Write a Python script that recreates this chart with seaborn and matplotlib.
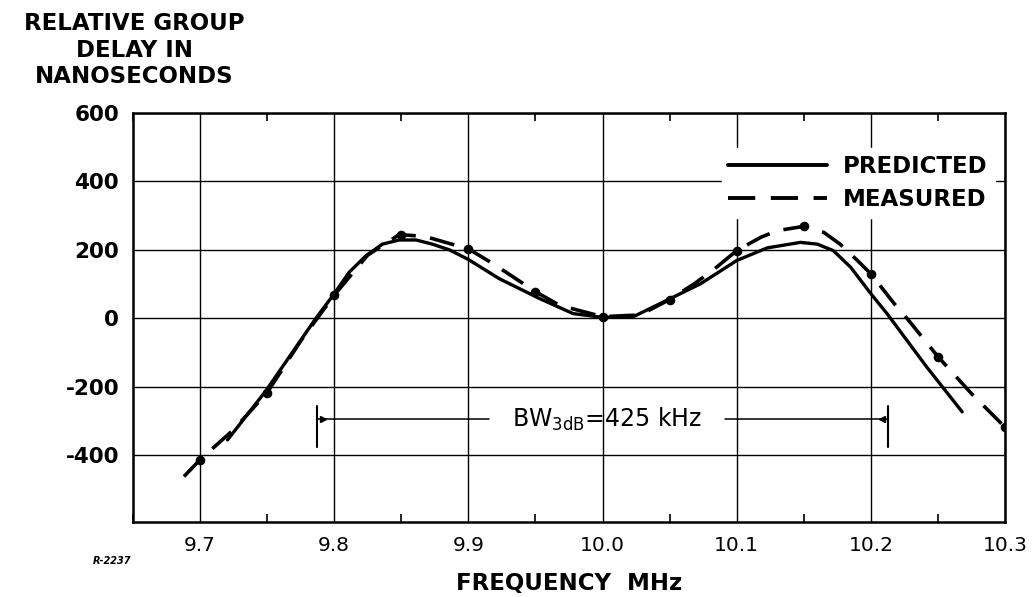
import numpy as np
import pandas as pd
import matplotlib
matplotlib.use("Agg")
import matplotlib.pyplot as plt
import seaborn as sns
from matplotlib.ticker import MultipleLocator

# ---- data ----
pred_x = [9.7205, 9.749, 9.7863, 9.8, 9.8112, 9.8237, 9.836, 9.8485, 9.861, 9.873,
          9.886, 9.9, 9.923, 9.953, 9.978, 10.0, 10.023, 10.048, 10.073, 10.1,
          10.1228, 10.1475, 10.16, 10.172, 10.185, 10.2, 10.212, 10.242, 10.268]
pred_y = [-355, -212, 0, 72, 135, 183, 217, 229, 229, 217,
          200, 172, 116, 58, 14, 3, 5, 53, 101, 169,
          206, 222, 217, 198, 149, 72, 14, -144, -273]

meas_x = [9.688, 9.7, 9.725, 9.75, 9.775, 9.8, 9.825, 9.8485, 9.868, 9.883, 9.9,
          9.9157, 9.928, 9.95, 9.968, 10.0, 10.028, 10.05, 10.068, 10.083, 10.1,
          10.118, 10.13, 10.15, 10.165, 10.177, 10.19, 10.2, 10.217, 10.229,
          10.25, 10.275, 10.3]
meas_y = [-462, -413, -325, -217, -66, 68, 185, 245, 239, 222, 203,
          166, 135, 78, 38, 5, 10, 55, 100, 143, 198,
          237, 256, 269, 251, 217, 169, 130, 45, -10,
          -112, -220, -318]

pt_x = [9.70, 9.75, 9.80, 9.85, 9.90, 9.95, 10.00, 10.05, 10.10, 10.15, 10.20, 10.25, 10.30]
pt_y = [-413, -217, 68, 245, 203, 78, 5, 55, 198, 269, 130, -112, -318]

x_ticks = [9.7, 9.8, 9.9, 10.0, 10.1, 10.2, 10.3]
x_tick_labels = ["9.7", "9.8", "9.9", "10.0", "10.1", "10.2", "10.3"]
y_ticks = [-400, -200, 0, 200, 400, 600]
y_tick_labels = ["-400", "-200", "0", "200", "400", "600"]

bw_left, bw_right, bw_level = 9.7875, 10.2125, -294

sns.set_style("white")
plt.rcParams["font.family"] = ["DejaVu Sans"]
plt.rcParams["text.color"] = "black"
plt.rcParams["xtick.color"] = "black"
plt.rcParams["ytick.color"] = "black"
plt.rcParams["axes.labelcolor"] = "black"

fig = plt.figure(figsize=(10.34, 5.97), dpi=100)
ax = fig.add_axes([0.1286, 0.1256, 0.972 - 0.1286, 0.8107 - 0.1256])

pred_df = pd.DataFrame({"f": pred_x, "d": pred_y})
meas_df = pd.DataFrame({"f": meas_x, "d": meas_y})
pts_df = pd.DataFrame({"f": pt_x, "d": pt_y})

sns.lineplot(data=pred_df, x="f", y="d", ax=ax, color="black", lw=2.4,
             sort=False, label="PREDICTED", zorder=3)
sns.lineplot(data=meas_df, x="f", y="d", ax=ax, color="black", lw=2.6,
             sort=False, label="MEASURED", zorder=3)
ax.lines[1].set_dashes([7, 4])
sns.scatterplot(data=pts_df, x="f", y="d", ax=ax, color="black", s=35,
                marker="o", edgecolor="black", linewidth=1, zorder=4, legend=False)

ax.set_xlim(9.65, 10.3)
ax.set_ylim(-595, 600)
ax.set_xticks(x_ticks)
ax.set_xticklabels(x_tick_labels, fontsize=14.5)
ax.set_yticks(y_ticks)
ax.set_yticklabels(y_tick_labels, fontsize=15.5, fontweight="bold")
ax.xaxis.set_minor_locator(MultipleLocator(0.05))
ax.tick_params(axis="both", which="major", length=0, pad=10)
ax.tick_params(axis="x", which="minor", length=6, width=1.2, direction="in",
               top=True, bottom=True)
ax.tick_params(axis="y", which="minor", length=0)
ax.grid(True, which="major", color="black", lw=1.0)
for s in ax.spines.values():
    s.set_visible(True)
    s.set_color("black")
    s.set_linewidth(1.8)
ax.set_xlabel("FREQUENCY  MHz", fontsize=16.5, fontweight="bold", labelpad=12)
ax.set_ylabel("")

# bandwidth bracket
ax.plot([bw_left, 9.915], [bw_level, bw_level], color="black", lw=1.1, zorder=3)
ax.plot([10.091, bw_right], [bw_level, bw_level], color="black", lw=1.1, zorder=3)
ax.plot([bw_left, bw_left], [-255, -375], color="black", lw=1.5, zorder=3)
ax.plot([bw_right, bw_right], [-255, -375], color="black", lw=1.5, zorder=3)
ax.plot([bw_left + 0.004], [bw_level], marker=">", color="black", ms=5, zorder=3)
ax.plot([bw_right - 0.004], [bw_level], marker="<", color="black", ms=5, zorder=3)
ax.text(10.003, bw_level, r"BW$_{\mathregular{3dB}}$=425 kHz", ha="center",
        va="center", fontsize=17, zorder=4)

leg = ax.legend(loc="upper right", bbox_to_anchor=(0.988, 0.915), fontsize=16.5,
                handlelength=4.3, handletextpad=0.7, labelspacing=0.45,
                frameon=True, borderpad=0.3, borderaxespad=0.0)
leg.get_frame().set_facecolor("white")
leg.get_frame().set_edgecolor("white")
leg.get_frame().set_alpha(1)
for t in leg.get_texts():
    t.set_fontweight("bold")
for h in leg.get_lines():
    h.set_linewidth(2.8)

fig.text(0.13, 0.98, "RELATIVE GROUP\nDELAY IN\nNANOSECONDS", ha="center",
         va="top", fontsize=16.5, fontweight="bold", linespacing=1.2)
fig.text(0.09, 0.055, "R-2237", fontsize=7, fontstyle="italic", fontweight="bold")

fig.savefig("out.png", dpi=100)
